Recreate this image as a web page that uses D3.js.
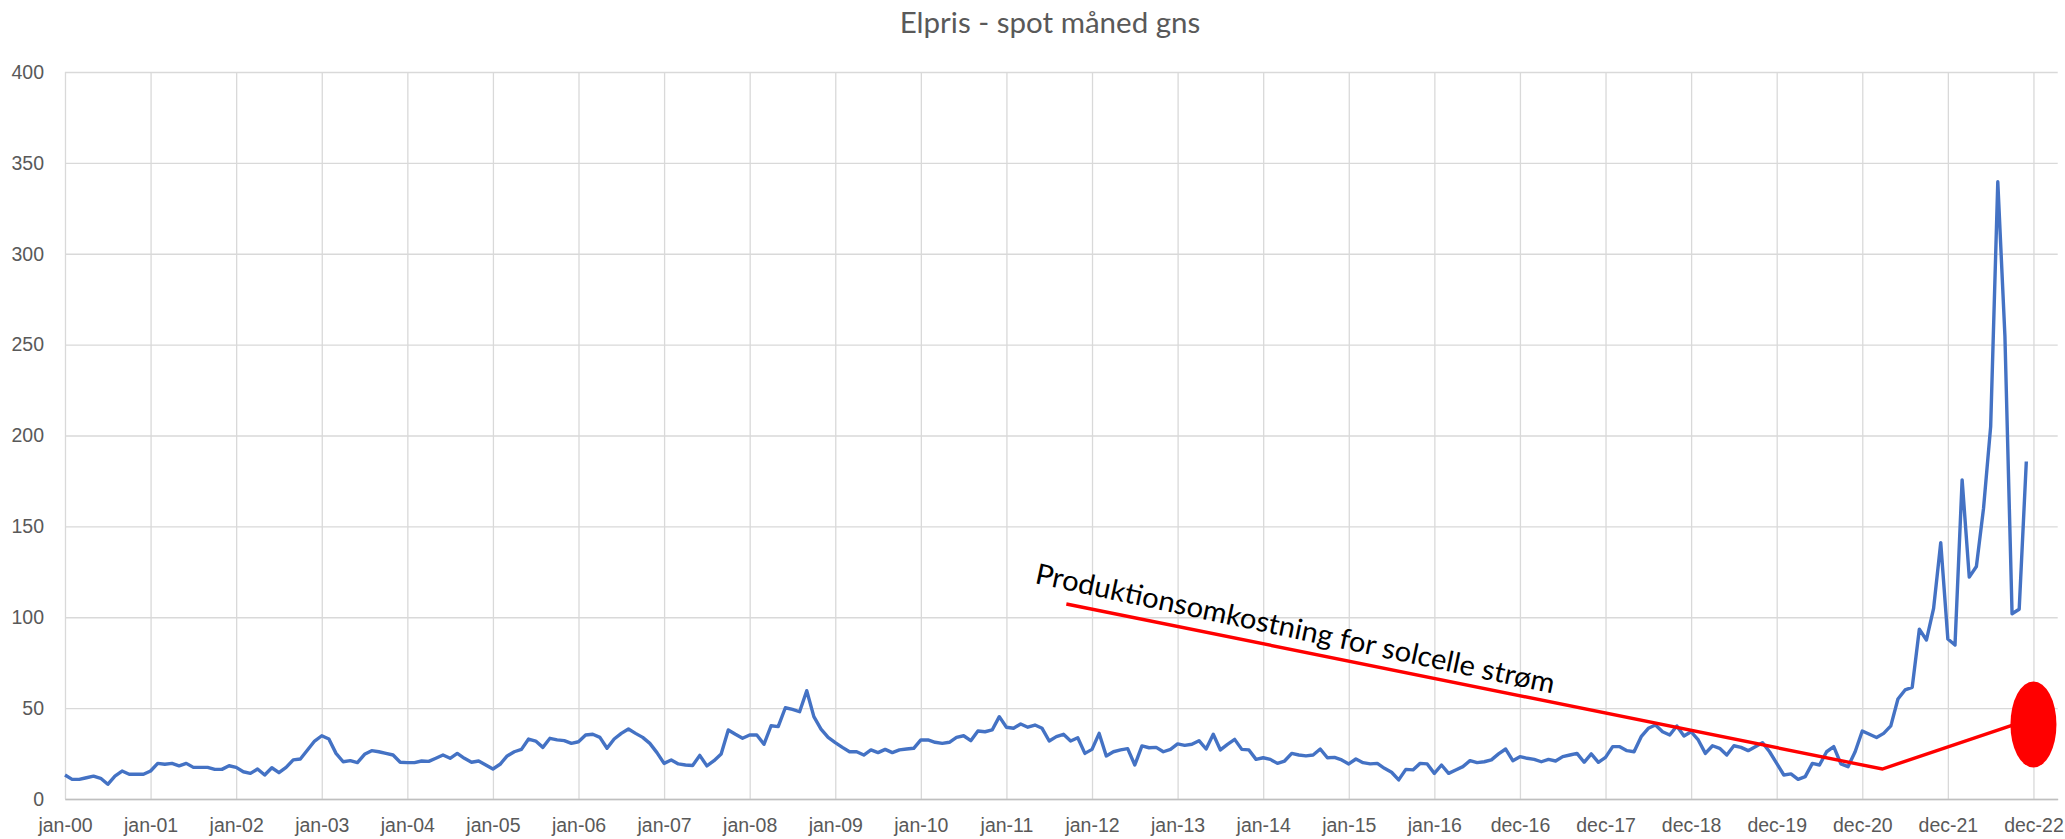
<!DOCTYPE html>
<html>
  <head>
    <meta charset="utf-8">
    <title>Elpris - spot måned gns</title>
    <script src="https://cdn.jsdelivr.net/npm/d3@7"></script>
    <style>
      body { margin: 0; background: #fff; }
      #chart { display: block; font-family: Lato, "Open Sans", sans-serif; }
      .grid line { stroke: #d9d9d9; stroke-width: 1.3; }
      .grid text { fill: #595959; font-size: 19.5px; }
      .grid .domain { stroke: #bfbfbf; stroke-width: 1.6; }
      #title { fill: #595959; font-size: 29.5px; }
      #costLabel { fill: #000; font-size: 28.5px; }
    </style>
  </head>

  <body>
    <svg id="chart" width="2065" height="839"></svg>

    <script>
      // monthly spot price averages, one value per month from jan-00
      var prices = [
        13.2, 10.8, 10.8, 11.7, 12.6, 11.4, 8.1, 12.6, 15.4, 13.6, 13.6, 13.6,
        15.4, 19.6, 19.1, 19.6, 18.2, 19.6, 17.4, 17.4, 17.4, 16.3, 16.3, 18.3,
        17.4, 15.0, 14.1, 16.5, 13.2, 17.2, 14.5, 17.4, 21.5, 22.0, 27.0, 31.9,
        34.8, 33.0, 25.1, 20.5, 21.1, 20.0, 24.6, 26.6, 26.0, 25.1, 24.2, 20.2,
        20.0, 20.0, 20.9, 20.7, 22.4, 24.2, 22.4, 25.1, 22.4, 20.2, 20.9, 18.7,
        16.5, 19.1, 23.7, 26.0, 27.3, 33.0, 31.9, 28.4, 33.4, 32.5, 32.1, 30.6,
        31.5, 35.2, 35.6, 33.9, 27.9, 33.0, 36.1, 38.5, 36.1, 33.9, 30.6, 25.5,
        19.6, 21.5, 19.3, 18.7, 18.4, 24.0, 18.2, 21.1, 24.8, 38.0, 35.6, 33.4,
        35.2, 35.2, 30.1, 40.3, 39.8, 50.2, 49.3, 48.0, 59.6, 45.3, 38.5, 33.9,
        31.0, 28.4, 26.0, 26.0, 24.2, 27.0, 25.5, 27.3, 25.5, 27.0, 27.5, 27.9,
        32.5, 32.5, 31.2, 30.6, 31.2, 33.9, 34.8, 32.1, 37.4, 37.0, 38.0, 45.3,
        39.5, 38.9, 41.3, 39.5, 40.7, 38.9, 31.9, 34.3, 35.6, 31.9, 33.7, 25.1,
        27.3, 36.1, 23.7, 26.0, 27.0, 27.7, 18.7, 29.2, 28.2, 28.4, 26.0, 27.3,
        30.3, 29.5, 30.1, 32.1, 27.5, 35.6, 27.0, 30.1, 32.8, 27.3, 27.0, 21.8,
        22.7, 21.8, 19.6, 20.9, 25.1, 24.2, 23.7, 24.2, 27.5, 22.7, 22.9, 21.5,
        19.3, 22.0, 20.0, 19.3, 19.6, 16.9, 14.7, 10.5, 16.3, 16.0, 19.6, 19.3,
        14.1, 18.7, 14.1, 16.0, 17.8, 21.1, 20.0, 20.5, 21.5, 24.8, 27.5, 21.1,
        23.3, 22.4, 21.8, 20.5, 21.8, 20.9, 23.3, 24.2, 25.1, 20.2, 24.8, 20.2,
        22.9, 28.8, 28.8, 26.6, 26.0, 34.3, 38.9, 40.7, 37.0, 35.2, 40.2, 34.7,
        37.0, 32.5, 25.1, 29.3, 27.9, 24.2, 29.3, 28.4, 26.6, 28.8, 31.0, 26.0,
        19.6, 13.2, 13.8, 10.8, 12.3, 19.6, 18.7, 26.0, 28.8, 19.3, 17.8, 26.0,
        37.4, 35.6, 33.8, 36.1, 40.2, 55.0, 60.0, 61.4, 93.4, 87.5, 104.9, 141.0,
        88.0, 84.7, 175.6, 122.1, 127.9, 159.9, 204.9, 339.6, 254.6, 101.9, 104.4, 185.7
      ];

      // category labels, one every 12 points
      var xLabels = [
        "jan-00", "jan-01", "jan-02", "jan-03", "jan-04", "jan-05", "jan-06", "jan-07",
        "jan-08", "jan-09", "jan-10", "jan-11", "jan-12", "jan-13", "jan-14", "jan-15",
        "jan-16", "dec-16", "dec-17", "dec-18", "dec-19", "dec-20", "dec-21", "dec-22"
      ];
      var yTicks = [0, 50, 100, 150, 200, 250, 300, 350, 400];

      // hand drawn annotation (point index, price)
      var costLine = [
        { i: 140.4, v: 107.3 },
        { i: 254.8, v: 16.5 },
        { i: 276, v: 44.5 }
      ];
      var costMarker = { i: 276, v: 41 };
      var costText = "Produktionsomkostning for solcelle strøm";

      // page elements
      chart = d3.select("#chart");
      width = 2065;
      height = 839;
      margin = { top: 72, right: 7.3, bottom: 40, left: 65 };

      x = d3.scaleLinear()
        .domain([0, 279.4])
        .range([margin.left, width - margin.right]);
      y = d3.scaleLinear()
        .domain([0, 400])
        .range([height - margin.bottom, margin.top]);

      xAxis = d3.axisBottom(x)
        .tickValues(xLabels.map(function(d, i) { return i * 12; }))
        .tickFormat(function(d) { return xLabels[d / 12]; })
        .tickSize(-(y(0) - y(400)))
        .tickSizeOuter(0)
        .tickPadding(19);
      yAxis = d3.axisLeft(y)
        .tickValues(yTicks)
        .tickSize(-(x.range()[1] - x.range()[0]))
        .tickPadding(21);

      chart.append("g")
        .attr("class", "grid")
        .attr("transform", "translate(" + margin.left + ",0)")
        .call(yAxis)
        .call(function(g) { g.select(".domain").remove(); });

      chart.append("g")
        .attr("class", "grid")
        .attr("transform", "translate(0," + y(0) + ")")
        .call(xAxis)
        .call(function(g) { g.select(".domain").raise(); });

      // title
      chart.append("text")
        .attr("id", "title")
        .attr("x", 1050)
        .attr("y", 33)
        .attr("text-anchor", "middle")
        .text("Elpris - spot måned gns");

      // price line
      line = d3.line()
        .x(function(d, i) { return x(i); })
        .y(function(d) { return y(d); });

      chart.append("path")
        .datum(prices)
        .attr("fill", "none")
        .attr("stroke", "#4472c4")
        .attr("stroke-width", 3.4)
        .attr("stroke-linejoin", "round")
        .attr("d", line);

      // annotation
      costPath = d3.line()
        .x(function(d) { return x(d.i); })
        .y(function(d) { return y(d.v); });

      chart.append("path")
        .datum(costLine)
        .attr("fill", "none")
        .attr("stroke", "#ff0000")
        .attr("stroke-width", 3.4)
        .attr("d", costPath);

      chart.append("ellipse")
        .attr("cx", x(costMarker.i))
        .attr("cy", y(costMarker.v))
        .attr("rx", 23)
        .attr("ry", 43)
        .attr("fill", "#ff0000");

      angle = Math.atan2(y(costLine[1].v) - y(costLine[0].v), x(costLine[1].i) - x(costLine[0].i)) * 180 / Math.PI;
      chart.append("text")
        .attr("id", "costLabel")
        .attr("transform", "translate(1034,583) rotate(" + (angle + 0.6) + ")")
        .attr("textLength", 530)
        .attr("lengthAdjust", "spacingAndGlyphs")
        .text(costText);
    </script>
  </body>
</html>
